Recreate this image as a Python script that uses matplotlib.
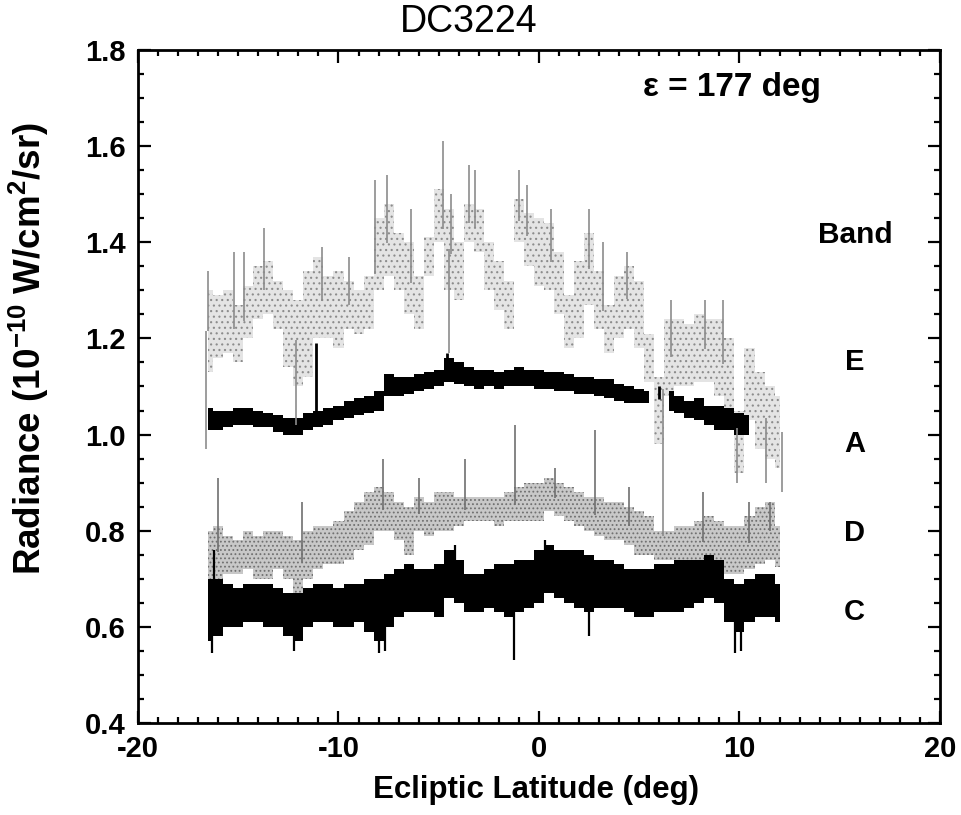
import numpy as np
import matplotlib
matplotlib.use('Agg')
import matplotlib.pyplot as plt
from matplotlib.ticker import MultipleLocator

plt.rcParams['font.family'] = ['Liberation Sans', 'DejaVu Sans']
plt.rcParams['axes.unicode_minus'] = False
plt.rcParams['hatch.linewidth'] = 0.8

# latitude grid the band envelopes were read on (deg)
LAT = np.arange(-16.5, 12.01, 0.5)

# Band E (grey, top) - low / high envelope of the scatter
E_LO = [1.13, 1.16, 1.17, 1.15, 1.20, 1.24, 1.25, 1.22, 1.14, 1.10, 1.12, 1.20, 1.20, 1.18, 1.22,
        1.21, 1.22, 1.30, 1.33, 1.30, 1.25, 1.22, 1.33, 1.40, 1.30, 1.28, 1.40, 1.38, 1.30, 1.26,
        1.22, 1.40, 1.35, 1.31, 1.30, 1.25, 1.18, 1.20, 1.27, 1.22, 1.17, 1.20, 1.22, 1.18, 1.11,
        0.98, 1.08, 1.10, 1.10, 1.11, 1.11, 1.08, 1.05, 0.92, 1.03, 0.97, 0.95, 0.93]
E_HI = [1.30, 1.29, 1.30, 1.27, 1.31, 1.35, 1.36, 1.32, 1.30, 1.28, 1.34, 1.37, 1.33, 1.34, 1.32,
        1.30, 1.33, 1.45, 1.48, 1.42, 1.40, 1.33, 1.41, 1.51, 1.47, 1.40, 1.48, 1.47, 1.40, 1.36,
        1.32, 1.49, 1.46, 1.45, 1.44, 1.38, 1.29, 1.36, 1.42, 1.34, 1.27, 1.33, 1.35, 1.32, 1.21,
        1.12, 1.24, 1.24, 1.23, 1.25, 1.24, 1.24, 1.20, 1.05, 1.18, 1.13, 1.10, 1.08]
E_SPIKE_X = [-16.5, -15.2, -14.7, -13.7, -10.8, -9.5, -8.2, -7.6, -6.4, -4.8, -4.4, -3.5, -3.2,
             -1.0, -0.6, 0.6, 2.5, 3.2, 4.4, 6.6, 8.3, 9.2,
             -16.6, -12.1, -4.5, 6.2, 9.9, 11.3, 12.1]
E_SPIKE_Y = [1.34, 1.38, 1.38, 1.43, 1.39, 1.37, 1.53, 1.54, 1.47, 1.61, 1.50, 1.56, 1.55,
             1.55, 1.52, 1.47, 1.47, 1.40, 1.38, 1.28, 1.28, 1.28,
             0.97, 1.02, 1.17, 0.79, 0.90, 0.90, 0.88]

# Band A (black)
nan = np.nan
A_LO = [1.01, 1.01, 1.015, 1.02, 1.02, 1.015, 1.015, 1.005, 1.0, 1.0, 1.01, 1.015, 1.02, 1.03, 1.035,
        1.04, 1.045, 1.05, 1.08, 1.08, 1.085, 1.09, 1.095, 1.10, 1.11, 1.105, 1.10, 1.095, 1.10, 1.095,
        1.10, 1.10, 1.10, 1.095, 1.095, 1.09, 1.09, 1.085, 1.085, 1.08, 1.075, 1.07, 1.065, 1.065, 1.065,
        nan, 1.05, 1.045, 1.035, 1.03, 1.02, 1.01, 1.01, 1.0, 1.0, nan, nan, nan]
A_HI = [1.055, 1.05, 1.05, 1.055, 1.055, 1.05, 1.045, 1.04, 1.035, 1.035, 1.045, 1.05, 1.055, 1.06, 1.07,
        1.075, 1.08, 1.09, 1.125, 1.12, 1.12, 1.125, 1.13, 1.135, 1.16, 1.15, 1.14, 1.135, 1.135, 1.13,
        1.135, 1.14, 1.135, 1.135, 1.13, 1.13, 1.125, 1.12, 1.12, 1.115, 1.115, 1.105, 1.10, 1.095, 1.09,
        nan, 1.09, 1.08, 1.07, 1.075, 1.06, 1.06, 1.055, 1.045, 1.04, nan, nan, nan]
A_SPIKE_X = [-11.1, -4.6, 6.0]
A_SPIKE_Y = [1.19, 1.17, 1.10]

# Band D (grey, middle)
D_LO = [0.70, 0.70, 0.71, 0.71, 0.72, 0.70, 0.70, 0.72, 0.70, 0.67, 0.70, 0.72, 0.73, 0.73, 0.74,
        0.76, 0.77, 0.80, 0.80, 0.78, 0.75, 0.80, 0.79, 0.80, 0.80, 0.81, 0.82, 0.82, 0.82, 0.81,
        0.82, 0.82, 0.82, 0.82, 0.84, 0.83, 0.82, 0.81, 0.80, 0.79, 0.78, 0.78, 0.77, 0.75, 0.75,
        0.74, 0.74, 0.73, 0.725, 0.73, 0.725, 0.72, 0.71, 0.71, 0.72, 0.73, 0.74, 0.725]
D_HI = [0.80, 0.81, 0.79, 0.78, 0.80, 0.79, 0.80, 0.80, 0.79, 0.78, 0.80, 0.81, 0.81, 0.82, 0.84,
        0.86, 0.88, 0.89, 0.88, 0.86, 0.85, 0.87, 0.86, 0.88, 0.88, 0.87, 0.87, 0.87, 0.87, 0.87,
        0.88, 0.89, 0.90, 0.90, 0.91, 0.90, 0.89, 0.88, 0.87, 0.87, 0.86, 0.86, 0.85, 0.84, 0.83,
        0.80, 0.80, 0.81, 0.81, 0.82, 0.83, 0.82, 0.81, 0.81, 0.83, 0.85, 0.86, 0.81]
D_SPIKE_X = [-16.0, -11.8, -7.8, -6.0, -3.7, -1.2, 0.8, 2.8, 4.5, 8.2, 10.5, 11.5]
D_SPIKE_Y = [0.91, 0.86, 0.95, 0.91, 0.95, 1.02, 0.93, 1.01, 0.89, 0.88, 0.86, 0.86]

# Band C (black, bottom)
C_LO = [0.57, 0.58, 0.60, 0.60, 0.61, 0.61, 0.60, 0.60, 0.58, 0.57, 0.60, 0.61, 0.61, 0.60, 0.60,
        0.61, 0.59, 0.57, 0.60, 0.62, 0.63, 0.63, 0.63, 0.62, 0.66, 0.65, 0.63, 0.63, 0.64, 0.63,
        0.62, 0.63, 0.64, 0.65, 0.67, 0.66, 0.65, 0.64, 0.63, 0.64, 0.64, 0.64, 0.63, 0.62, 0.62,
        0.63, 0.63, 0.63, 0.64, 0.65, 0.66, 0.65, 0.61, 0.59, 0.61, 0.62, 0.62, 0.61]
C_HI = [0.70, 0.70, 0.69, 0.68, 0.69, 0.69, 0.69, 0.68, 0.67, 0.67, 0.68, 0.69, 0.69, 0.68, 0.69,
        0.69, 0.70, 0.70, 0.71, 0.72, 0.73, 0.72, 0.72, 0.73, 0.76, 0.74, 0.71, 0.71, 0.72, 0.73,
        0.73, 0.74, 0.74, 0.76, 0.77, 0.76, 0.76, 0.76, 0.75, 0.74, 0.74, 0.73, 0.72, 0.72, 0.72,
        0.73, 0.73, 0.74, 0.74, 0.74, 0.75, 0.74, 0.70, 0.69, 0.70, 0.71, 0.71, 0.69]
C_SPIKE_X = [-16.3, -16.2, -12.2, -8.0, -7.7, -4.2, -1.25, 0.3, 2.5, 9.8, 10.1]
C_SPIKE_Y = [0.545, 0.76, 0.55, 0.545, 0.55, 0.77, 0.53, 0.78, 0.58, 0.545, 0.55]

BAND_LABELS = ['E', 'A', 'D', 'C']
BAND_LABEL_Y = [1.15, 0.98, 0.795, 0.63]


def draw_band(ax, lo, hi, sx, sy, color, spike_color, lw_spike, hatch=None):
    lo = np.asarray(lo, float)
    hi = np.asarray(hi, float)
    if hatch:
        ax.fill_between(LAT, lo, hi, step='mid', facecolor=color, edgecolor=spike_color,
                        hatch=hatch, lw=0)
    else:
        ax.fill_between(LAT, lo, hi, step='mid', facecolor=color, edgecolor='none', lw=0)
    mid = (lo + hi) / 2
    ok = ~np.isnan(mid)
    base = np.interp(sx, LAT[ok], mid[ok])
    ax.vlines(sx, base, sy, color=spike_color, lw=lw_spike)


fig = plt.figure(figsize=(9.61, 8.15), dpi=100)
ax = fig.add_axes([0.1436, 0.1129, 0.8345, 0.8258])

draw_band(ax, E_LO, E_HI, E_SPIKE_X, E_SPIKE_Y, '#e4e4e4', '#8c8c8c', 1.2, hatch='...')
draw_band(ax, D_LO, D_HI, D_SPIKE_X, D_SPIKE_Y, '#c8c8c8', '#707070', 1.2, hatch='....')
draw_band(ax, A_LO, A_HI, A_SPIKE_X, A_SPIKE_Y, 'black', 'black', 2.0)
draw_band(ax, C_LO, C_HI, C_SPIKE_X, C_SPIKE_Y, 'black', 'black', 1.6)

ax.set_xlim(-20, 20)
ax.set_ylim(0.4, 1.8)
ax.xaxis.set_major_locator(MultipleLocator(10))
ax.xaxis.set_minor_locator(MultipleLocator(1))
ax.yaxis.set_major_locator(MultipleLocator(0.2))
ax.yaxis.set_minor_locator(MultipleLocator(0.05))
ax.yaxis.set_major_formatter(plt.FuncFormatter(lambda v, p: f'{v:.1f}'))
ax.tick_params(which='both', direction='in', top=True, right=True, width=1.6)
ax.tick_params(which='major', length=9, labelsize=21, pad=9)
ax.tick_params(which='minor', length=4.5)
for lab in ax.get_xticklabels() + ax.get_yticklabels():
    lab.set_fontweight('bold')
for sp in ax.spines.values():
    sp.set_linewidth(2)

fig.text(0.488, 0.973, 'DC3224', ha='center', va='center', fontsize=27)
fig.text(0.558, 0.031, 'Ecliptic Latitude (deg)', ha='center', va='center',
         fontsize=22.5, fontweight='bold')
fig.text(0.03, 0.572, r'Radiance (10$^{\mathregular{-10}}$ W/cm$^{\mathregular{2}}$/sr)',
         ha='center', va='center', rotation=90, fontsize=26.5, fontweight='bold')

ax.text(9.6, 1.722, '\u03b5 = 177 deg', ha='center', va='center', fontsize=24, fontweight='bold')
ax.text(15.8, 1.415, 'Band', ha='center', va='center', fontsize=21.5, fontweight='bold')
for lab, y in zip(BAND_LABELS, BAND_LABEL_Y):
    ax.text(15.75, y, lab, ha='center', va='center', fontsize=21, fontweight='bold')

fig.savefig('out.png', dpi=100, facecolor='white')
